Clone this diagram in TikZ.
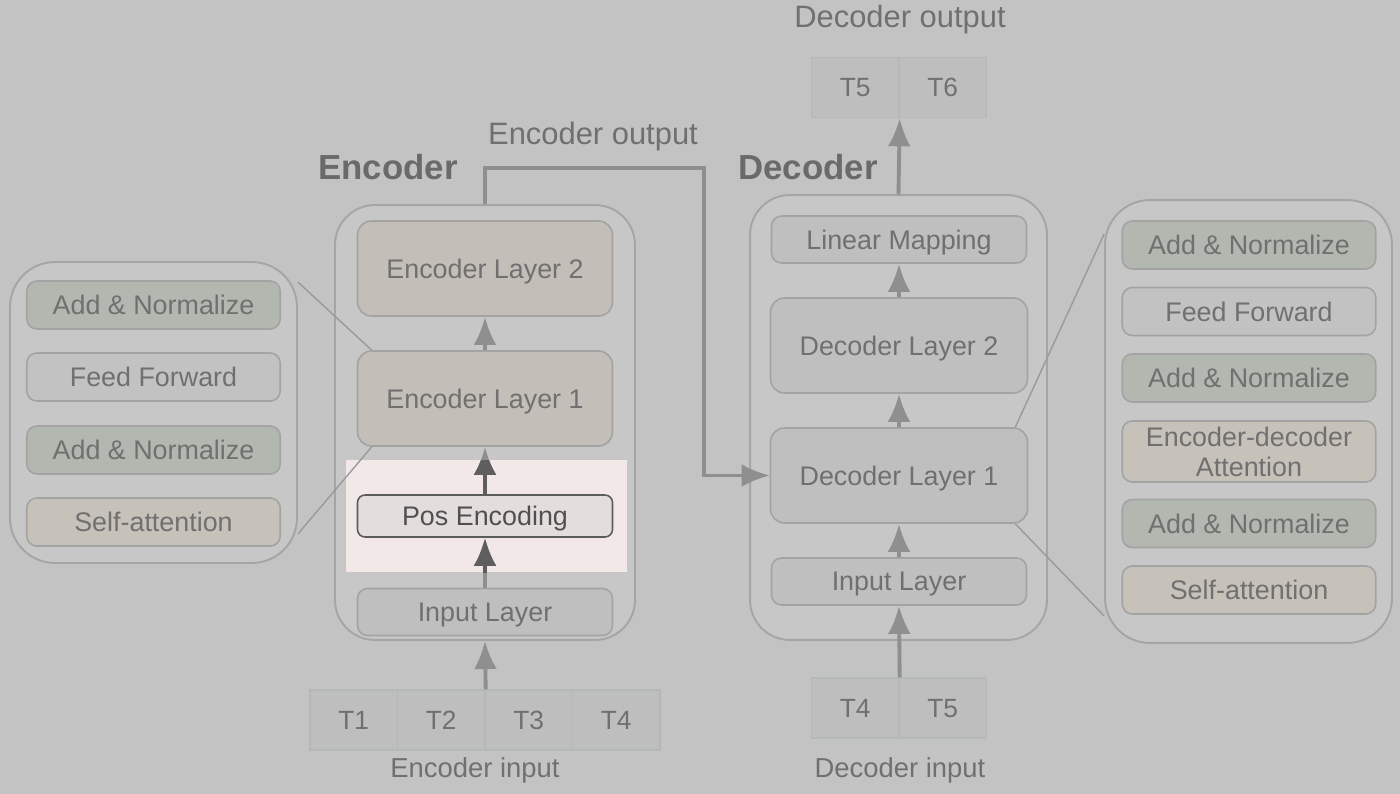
\documentclass[tikz,border=0pt]{standalone}
\usepackage{fontspec}
\setmainfont{Liberation Sans}
\usetikzlibrary{arrows.meta}
\definecolor{bgc}{HTML}{C3C3C3}
\definecolor{panelfill}{HTML}{C7C7C7}
\definecolor{panelline}{HTML}{A5A5A5}
\definecolor{encfill}{HTML}{C3BEB7}
\definecolor{decfill}{HTML}{BFBFBF}
\definecolor{boxline}{HTML}{A3A3A3}
\definecolor{addfill}{HTML}{B2B7AF}
\definecolor{fffill}{HTML}{C2C2C2}
\definecolor{attfill}{HTML}{C6C1B9}
\definecolor{tokfill}{HTML}{BEBEBE}
\definecolor{tokline}{HTML}{B3BAB3}
\definecolor{txt}{HTML}{707070}
\definecolor{headc}{HTML}{6A6A6A}
\definecolor{arrowc}{HTML}{8F8F8F}
\definecolor{hilite}{HTML}{F1E8E7}
\definecolor{posfill}{HTML}{E3DEDD}
\definecolor{posline}{HTML}{5C5C5C}
\definecolor{postxt}{HTML}{505050}
\definecolor{darkarrow}{HTML}{5E5E5E}
\definecolor{zoomc}{HTML}{9A9A9A}
\begin{document}
\begin{tikzpicture}[x=0.02cm,y=-0.02cm,
    lbl/.style={text=txt,font=\fontsize{15.3}{17}\selectfont},
    panel/.style={draw=panelline,fill=panelfill,line width=1.1pt,rounded corners=0.8cm},
    block/.style={lbl,draw=boxline,line width=0.9pt,rounded corners=0.28cm,minimum width=5.1cm,align=center,inner sep=0pt,text depth=0pt},
    enclayer/.style={block,fill=encfill,minimum height=1.9cm},
    declayer/.style={block,fill=decfill,minimum height=1.9cm,minimum width=5.14cm},
    thinblock/.style={block,fill=decfill,minimum height=0.94cm,rounded corners=0.2cm},
    addnorm/.style={block,fill=addfill,minimum width=5.07cm,minimum height=0.96cm,rounded corners=0.2cm},
    ffwd/.style={addnorm,fill=fffill},
    attn/.style={addnorm,fill=attfill},
    tok/.style={draw=tokline,fill=tokfill,text=txt,line width=0.8pt,minimum width=1.75cm,minimum height=1.2cm,inner sep=0pt,text depth=0pt,font=\fontsize{15}{17}\selectfont},
    heading/.style={text=headc,font=\bfseries\fontsize{19.8}{22}\selectfont},
    iolabel/.style={text=txt,font=\fontsize{15.6}{18}\selectfont},
    outlabel/.style={text=txt,font=\fontsize{17.6}{20}\selectfont},
    flow/.style={draw=arrowc,line width=2.2pt,-{Latex[length=16pt,width=13pt]}},
    zoomline/.style={draw=zoomc,line width=0.8pt}]

    \fill[bgc] (0,0) rectangle (1400,794);
    \useasboundingbox (0,0) rectangle (1400,794);

    % containers
    \node (lp) at (153.5,412.5)[panel,minimum width=5.74cm,minimum height=6.02cm,rounded corners=0.9cm]{};
    \node (rp) at (1248.5,421.5)[panel,minimum width=5.74cm,minimum height=8.86cm,rounded corners=0.9cm]{};
    \node (enc) at (485,422.5)[panel,minimum width=6cm,minimum height=8.7cm]{};
    \node (dec) at (898.5,417.5)[panel,minimum width=5.94cm,minimum height=8.9cm]{};

    \fill[hilite] (346,460) rectangle (627,572);

    % encoder
    \node (el2) at (485,268.5)[enclayer]{Encoder Layer 2};
    \node (el1) at (485,398.5)[enclayer]{Encoder Layer 1};
    \node (pe) at (485,516)[block,fill=posfill,draw=posline,text=postxt,minimum height=0.84cm,rounded corners=0.15cm]{Pos Encoding};
    \node (eil) at (485,612)[thinblock]{Input Layer};
    \foreach \i in {1,...,4}
        {
            \node (et\i) at (266.25+87.5*\i,720)[tok]{T\i};
        }
    \node (ein) at (475,770)[iolabel]{Encoder input};
    \node (eout) at (593,137)[outlabel]{Encoder output};
    \node (enctitle) at (388,167)[heading]{Encoder};

    % decoder
    \node (lm) at (899,239.5)[thinblock]{Linear Mapping};
    \node (dl2) at (899,345.5)[declayer]{Decoder Layer 2};
    \node (dl1) at (899,475.5)[declayer]{Decoder Layer 1};
    \node (dil) at (899,581.5)[thinblock]{Input Layer};
    \foreach \t [count=\i] in {4,5}
        {
            \node (dt\i) at (767.75+87.5*\i,708)[tok]{T\t};
        }
    \foreach \t [count=\i] in {5,6}
        {
            \node (ot\i) at (767.75+87.5*\i,87.5)[tok]{T\t};
        }
    \node (din) at (900,770)[iolabel]{Decoder input};
    \node (dout) at (900,20)[outlabel]{Decoder output};
    \node (dectitle) at (808,167)[heading]{Decoder};

    % encoder layer detail
    \foreach \y/\s/\t [count=\i] in {305/addnorm/Add \& Normalize,377/ffwd/Feed Forward,450/addnorm/Add \& Normalize,522/attn/Self-attention}
        {
            \node (l\i) at (153.5,\y)[\s]{\t};
        }

    % decoder layer detail
    \foreach \y/\s/\t [count=\i] in {245/addnorm/Add \& Normalize,311.5/ffwd/Feed Forward,378/addnorm/Add \& Normalize,523.5/addnorm/Add \& Normalize,590/attn/Self-attention}
        {
            \node (r\i) at (1249,\y)[\s]{\t};
        }
    \node (rx) at (1249,451.5)[attn,minimum height=1.22cm,font=\fontsize{15.3}{17.2}\selectfont]{Encoder-decoder\\Attention};

    % arrows
    \draw[flow] (et2.north east) -- (enc.south);
    \draw[flow] (eil) -- (pe);
    \draw[flow] (pe) -- (el1);
    \draw[flow] (el1) -- (el2);
    \draw[flow] (dt1.north east) -- (dil.south);
    \draw[flow] (dil) -- (dl1);
    \draw[flow] (dl1) -- (dl2);
    \draw[flow] (dl2) -- (lm);
    \draw[flow] (dec.north) -- (ot1.south east);

    \coordinate (bend) at (704,168);
    \draw[flow,line width=2pt] (enc.north) |- (bend) |- (dl1.west);

    % zoom lines
    \draw[zoomline] ([yshift=-0.42cm]lp.north east) -- ([xshift=0.3cm]el1.north west);
    \draw[zoomline] ([yshift=0.6cm]lp.south east) -- ([xshift=0.3cm]el1.south west);
    \draw[zoomline] ([xshift=-0.26cm]dl1.north east) -- ([yshift=-0.7cm]rp.north west);
    \draw[zoomline] ([xshift=-0.26cm]dl1.south east) -- ([yshift=0.56cm]rp.south west);

    \begin{scope}
        \clip (346,460) rectangle (627,572);
        \draw[flow,draw=darkarrow] (eil) -- (pe);
        \draw[flow,draw=darkarrow] (pe) -- (el1);
    \end{scope}
\end{tikzpicture}
\end{document}
